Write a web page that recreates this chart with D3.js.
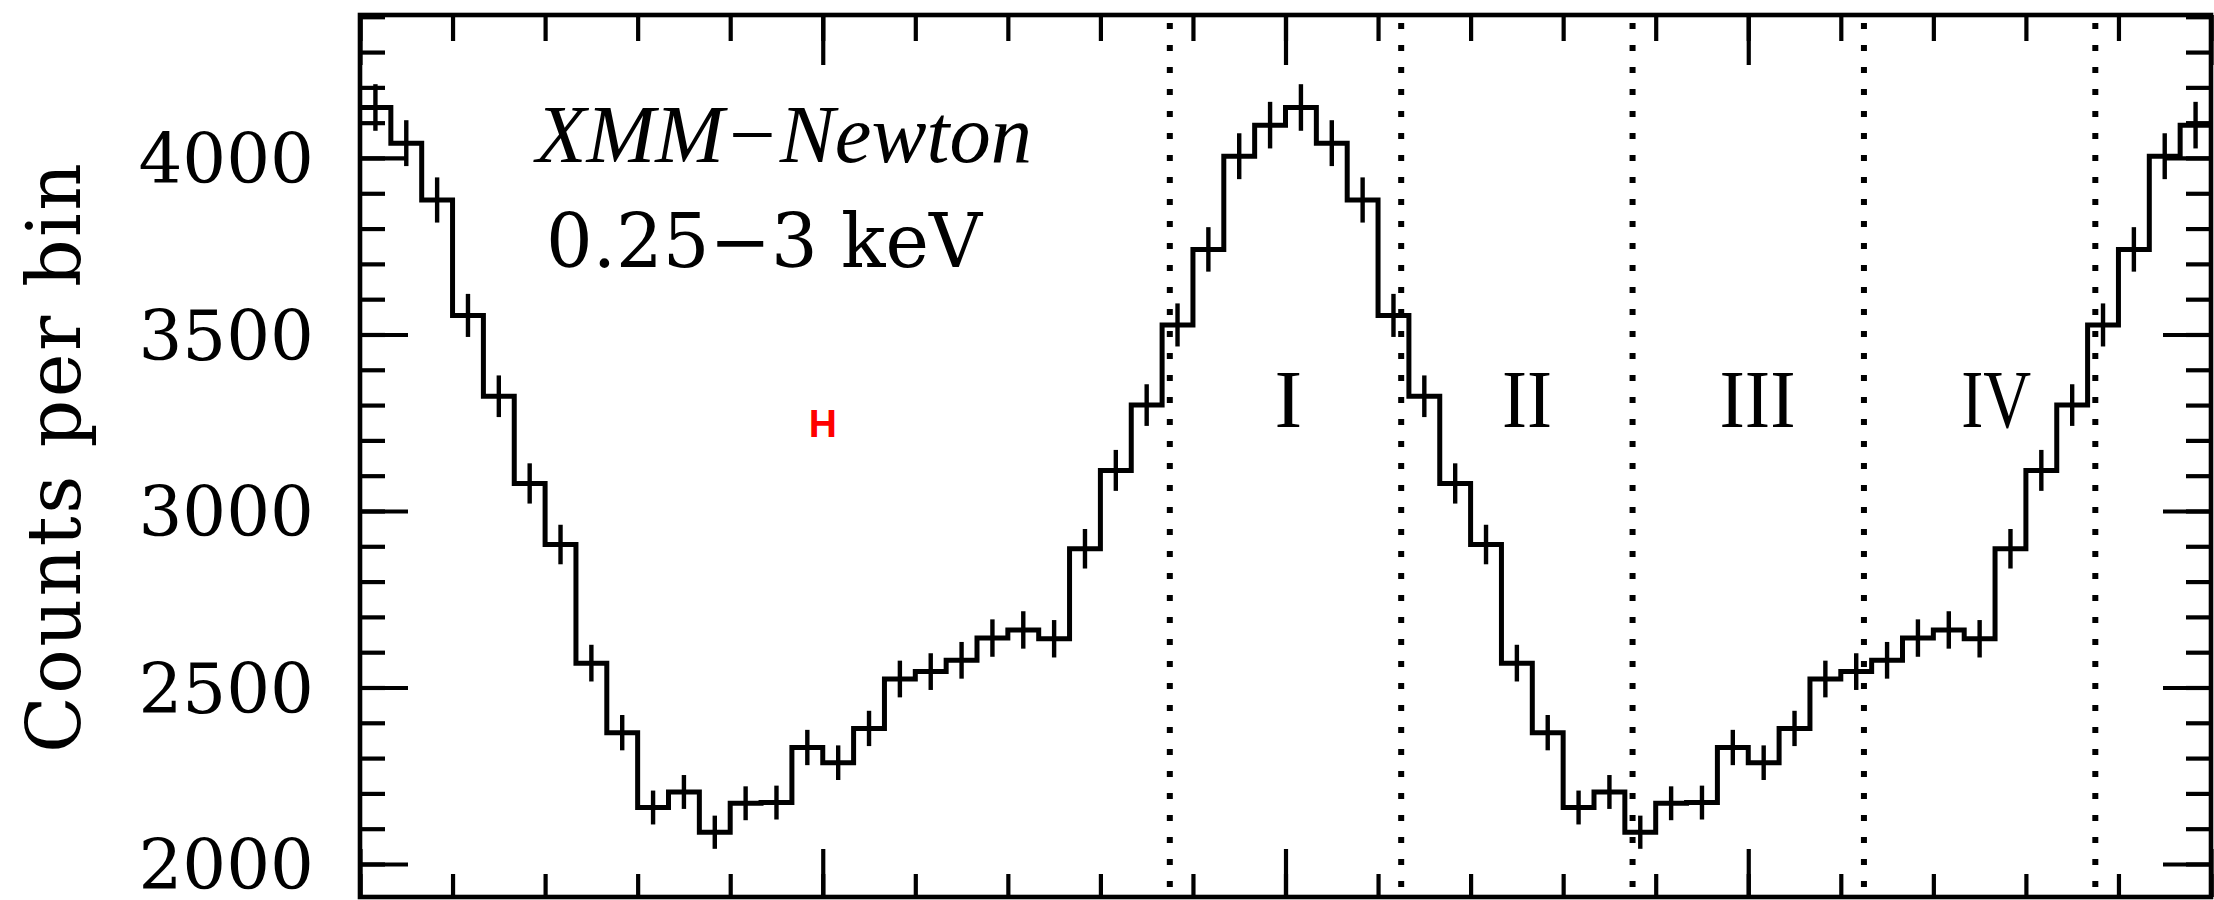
<!DOCTYPE html>
<html>
<head>
<meta charset="utf-8">
<script src="https://cdn.jsdelivr.net/npm/d3@7"></script>
<style>
  html, body { margin: 0; padding: 0; background: #fff; }
  svg { display: block; }
</style>
</head>
<body>
<svg id="chart" width="2214" height="900"></svg>
<script>
// Folded light curve: counts per phase bin (30 bins per cycle), shown over two cycles
const counts = [4143, 4042, 3881, 3554, 3325, 3078, 2905, 2569, 2372, 2160,
                2204, 2090, 2172, 2174, 2330, 2287, 2384, 2524, 2545, 2577,
                2640, 2663, 2638, 2893, 3115, 3300, 3527, 3741, 4005, 4093];
const errors = [66, 65, 64, 61, 59, 57, 56, 52, 50, 48,
                48, 47, 48, 48, 50, 49, 50, 52, 52, 52,
                53, 53, 53, 56, 58, 59, 61, 63, 65, 66];
const cycles = [0, 1];
const binsPerCycle = 30;

// Phase-interval boundaries and region names
const boundaries = [0.875, 1.125, 1.375, 1.625, 1.875];
const regionNames = ["I", "II", "III", "IV"];
const regionPhases = [1.003, 1.261, 1.51, 1.768];

// Axis ticks
const yLabelTicks = [2000, 2500, 3000, 3500, 4000];
const yMinorTicks = d3.range(2000, 4401, 100);
const xMinorTicks = d3.range(0, 2.0001, 0.1);
const xMajorTicks = [0, 0.5, 1, 1.5, 2];

const svg = d3.select("#chart");
const W = 2214, H = 900;
const frame = { left: 360, right: 2211, top: 15, bottom: 897 };

const x = d3.scaleLinear().domain([0, 2]).range([frame.left, frame.right]);
const y = d3.scaleLinear().domain([1906.5, 4405]).range([frame.bottom, frame.top]);

svg.append("rect").attr("width", W).attr("height", H).attr("fill", "#fff");

svg.append("clipPath").attr("id", "plotClip")
  .append("rect")
  .attr("x", frame.left).attr("y", frame.top)
  .attr("width", frame.right - frame.left).attr("height", frame.bottom - frame.top);

// Build the histogram bins for both cycles
const bins = cycles.flatMap(c => counts.map((v, i) => ({
  lo: (c * binsPerCycle + i) / binsPerCycle,
  hi: (c * binsPerCycle + i + 1) / binsPerCycle,
  v, e: errors[i]
})));

// Dotted region boundaries
svg.append("g").selectAll("line").data(boundaries).join("line")
  .attr("x1", d => x(d)).attr("x2", d => x(d))
  .attr("y1", frame.top + 8).attr("y2", frame.bottom)
  .attr("stroke", "#000").attr("stroke-width", 6)
  .attr("stroke-dasharray", "6 16");

// Step histogram
const stepPts = bins.map(b => [b.lo, b.v]).concat([[bins[bins.length - 1].hi, bins[bins.length - 1].v]]);
const step = d3.line().x(d => x(d[0])).y(d => y(d[1])).curve(d3.curveStepAfter);
const plot = svg.append("g").attr("clip-path", "url(#plotClip)");
plot.append("path").datum(stepPts)
  .attr("d", step).attr("fill", "none")
  .attr("stroke", "#000").attr("stroke-width", 5)
  .attr("stroke-linejoin", "miter");

// Error bars at bin centres
plot.append("g").selectAll("line").data(bins).join("line")
  .attr("x1", d => x((d.lo + d.hi) / 2)).attr("x2", d => x((d.lo + d.hi) / 2))
  .attr("y1", d => y(d.v - d.e)).attr("y2", d => y(d.v + d.e))
  .attr("stroke", "#000").attr("stroke-width", 4.4);

// Axes with inward ticks
const tickStyle = g => {
  g.select(".domain").remove();
  g.selectAll(".tick line").attr("stroke", "#000").attr("stroke-width", 4.2);
};
svg.append("g").attr("transform", `translate(0,${frame.bottom})`)
  .call(d3.axisBottom(x).tickValues(xMinorTicks).tickSize(-23).tickFormat(""))
  .call(tickStyle);
svg.append("g").attr("transform", `translate(0,${frame.bottom})`)
  .call(d3.axisBottom(x).tickValues(xMajorTicks).tickSize(-48).tickFormat(""))
  .call(tickStyle);
svg.append("g").attr("transform", `translate(0,${frame.top})`)
  .call(d3.axisTop(x).tickValues(xMinorTicks).tickSize(-26).tickFormat(""))
  .call(tickStyle);
svg.append("g").attr("transform", `translate(0,${frame.top})`)
  .call(d3.axisTop(x).tickValues(xMajorTicks).tickSize(-50).tickFormat(""))
  .call(tickStyle);

svg.append("g").attr("transform", `translate(${frame.left},0)`)
  .call(d3.axisLeft(y).tickValues(yMinorTicks).tickSize(-25).tickFormat(""))
  .call(tickStyle);
svg.append("g").attr("transform", `translate(${frame.right},0)`)
  .call(d3.axisRight(y).tickValues(yMinorTicks).tickSize(-25).tickFormat(""))
  .call(tickStyle);
svg.append("g").attr("transform", `translate(${frame.right},0)`)
  .call(d3.axisRight(y).tickValues(yLabelTicks).tickSize(-48).tickFormat(""))
  .call(tickStyle);
svg.append("g").attr("transform", `translate(${frame.left},0)`)
  .call(d3.axisLeft(y).tickValues(yLabelTicks).tickSize(-48).tickPadding(46).tickFormat(d3.format("d")))
  .call(tickStyle)
  .call(g => g.selectAll(".tick text")
    .attr("font-family", "'DejaVu Serif', serif")
    .attr("font-size", 69)
    .attr("fill", "#000")
    .attr("dy", "0.36em"));

// Frame
svg.append("rect")
  .attr("x", frame.left).attr("y", frame.top)
  .attr("width", frame.right - frame.left).attr("height", frame.bottom - frame.top)
  .attr("fill", "none").attr("stroke", "#000").attr("stroke-width", 4.6);

// Y axis title
svg.append("text")
  .attr("transform", `translate(80,458) rotate(-90)`)
  .attr("text-anchor", "middle")
  .attr("font-family", "'DejaVu Serif', serif")
  .attr("font-size", 74)
  .attr("textLength", 590).attr("lengthAdjust", "spacing")
  .text("Counts per bin");

// Instrument and band annotations
svg.append("text")
  .attr("x", 536).attr("y", 162)
  .attr("font-family", "'Liberation Serif', serif")
  .attr("font-style", "italic")
  .attr("font-size", 82)
  .attr("textLength", 496).attr("lengthAdjust", "spacingAndGlyphs")
  .text("XMM\u2212Newton");
svg.append("text")
  .attr("x", 546).attr("y", 267)
  .attr("font-family", "'DejaVu Serif', serif")
  .attr("font-size", 74)
  .attr("textLength", 436).attr("lengthAdjust", "spacingAndGlyphs")
  .text("0.25\u22123 keV");

// Region labels
const romanWidths = { "I": null, "II": 50, "III": 76, "IV": 70 };
svg.append("g").selectAll("text").data(regionNames).join("text")
  .attr("x", (d, i) => x(regionPhases[i]))
  .attr("y", 427)
  .attr("text-anchor", "middle")
  .attr("font-family", "'Liberation Serif', serif")
  .attr("font-size", 83)
  .each(function (d) {
    if (romanWidths[d]) d3.select(this).attr("textLength", romanWidths[d]).attr("lengthAdjust", "spacingAndGlyphs");
  })
  .text(d => d);

// Red marker
svg.append("text")
  .attr("x", x(0.5)).attr("y", y(3250))
  .attr("dy", "0.36em")
  .attr("text-anchor", "middle")
  .attr("font-family", "'Liberation Sans', Arial, sans-serif")
  .attr("font-weight", "bold")
  .attr("font-size", 39)
  .attr("fill", "#ff0000")
  .text("H");
</script>
</body>
</html>
